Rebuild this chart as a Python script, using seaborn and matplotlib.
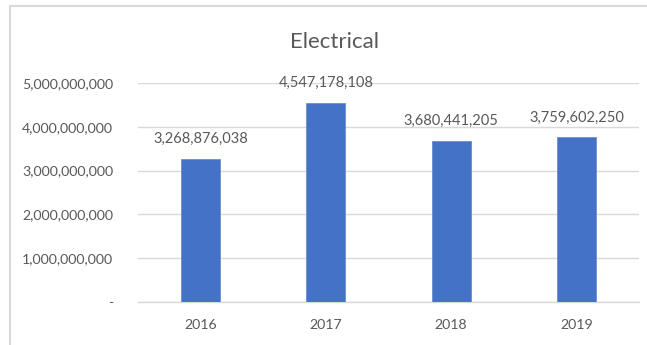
import matplotlib
matplotlib.use("Agg")
import matplotlib.pyplot as plt
import seaborn as sns
import pandas as pd
from matplotlib.ticker import FuncFormatter
from matplotlib.lines import Line2D

years = ["2016", "2017", "2018", "2019"]
values = [3268876038, 4547178108, 3680441205, 3759602250]
yticks = [0, 1e9, 2e9, 3e9, 4e9, 5e9]

sns.set_style("white")
plt.rcParams['font.family'] = ['Lato', 'DejaVu Sans']
txt = '#595959'

df = pd.DataFrame({"year": years, "value": values})
fig = plt.figure(figsize=(6.47, 3.45), dpi=100)
ax = fig.add_axes([138/647, 1-302/345, (639-138)/647, (302-83)/345])

sns.barplot(data=df, x="year", y="value", color="#4472C4", width=0.31,
            saturation=1, edgecolor="#6d8fd0", linewidth=0.6, ax=ax, zorder=3)

ax.set_ylim(0, 5e9)
ax.set_xlim(-0.5, 3.5)
ax.set_yticks(yticks)
ax.yaxis.set_major_formatter(FuncFormatter(lambda v, p: "-" if v == 0 else f"{int(v):,}"))
ax.grid(axis='y', color='#D9D9D9', linewidth=1, zorder=0)
ax.grid(axis='x', visible=False)
for s in ['top', 'right', 'left']:
    ax.spines[s].set_visible(False)
ax.spines['bottom'].set_color('#D9D9D9')
ax.spines['bottom'].set_linewidth(1)
ax.tick_params(axis='y', length=0, pad=18, labelsize=10.2, labelcolor=txt)
ax.tick_params(axis='x', length=0, pad=12, labelsize=10.2, labelcolor=txt)
ax.set_xlabel("")
ax.set_ylabel("")

for i, v in enumerate(values):
    ax.annotate(f"{v:,}", (i, v), xytext=(0, 9), textcoords='offset points',
                ha='center', va='bottom', fontsize=10.5, color=txt, clip_on=False)

fig.text(334/647, 1-42/345, "Electrical", ha='center', va='center', fontsize=16, color=txt)

# outer chart border (top and left visible)
fig.add_artist(Line2D([10/647, 10/647], [0, 1-6/345], transform=fig.transFigure, color='#D9D9D9', linewidth=1.5))
fig.add_artist(Line2D([10/647, 1], [1-6/345, 1-6/345], transform=fig.transFigure, color='#D9D9D9', linewidth=1.5))

fig.savefig("out.png", dpi=100)
